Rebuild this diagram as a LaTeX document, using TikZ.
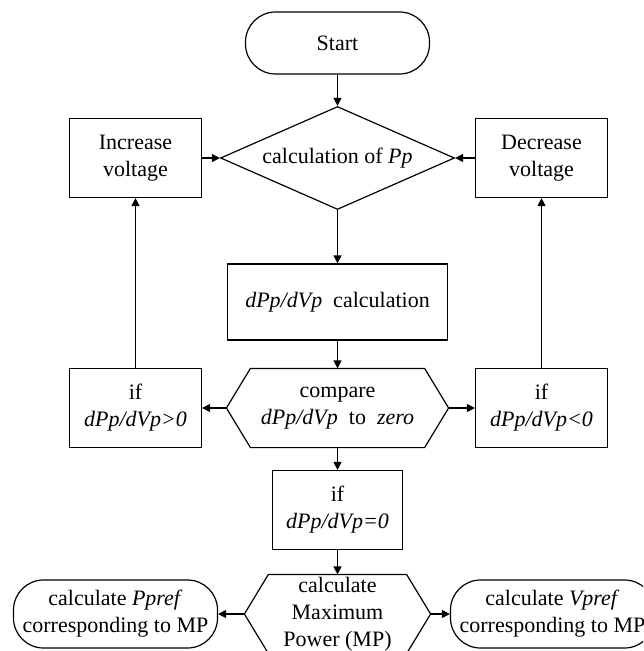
\documentclass[tikz,border=0pt]{standalone}
\usepackage{fontspec}
\setmainfont{Liberation Serif}
\usetikzlibrary{shapes.geometric}
\usetikzlibrary{arrows.meta}

\begin{document}
\begin{tikzpicture}[x=0.5pt,y=0.5pt,->,>={Triangle[length=4pt,width=4pt]},line width=0.6pt,
        every node/.style={font=\fontsize{11}{13.5}\selectfont, align=center, inner sep=1pt},
        terminal/.style={draw, rectangle, rounded corners=15pt, minimum width=102pt, minimum height=34pt},
        decision/.style={draw, diamond, aspect=2.3, minimum width=117pt, minimum height=51.5pt, inner sep=0pt},
        block/.style={draw, rectangle, minimum width=66pt, minimum height=39.5pt},
        hexa/.style={rectangle, minimum width=110.5pt, minimum height=39pt}]
        \useasboundingbox (0,0) rectangle (643,-651);
        \clip (0,0) rectangle (643,-651);
        \node[terminal, minimum width=92pt, minimum height=31pt] (start) at (337.5,-43) {Start};
        \node[decision] (calc) [below of=start, node distance=57.5pt] {calculation of \textit{Pp}};
        \node[block] (inc) [left of=calc, node distance=101pt] {Increase\\voltage};
        \node[block] (dec) [right of=calc, node distance=102pt] {Decrease\\voltage};
        \node[block, minimum width=110pt, minimum height=38pt] (deriv) [below of=calc, node distance=72pt] {\textit{dPp/dVp}~ calculation};
        \node[hexa] (cmp) [below of=deriv, node distance=53pt] {compare\\\textit{dPp/dVp}~ to~ \textit{zero}};
        \node[block] (ifpos) [left of=cmp, node distance=101pt] {if\\\textit{dPp/dVp>0}};
        \node[block] (ifneg) [right of=cmp, node distance=102pt] {if\\\textit{dPp/dVp<0}};
        \node[block, minimum width=65pt] (ifzero) [below of=cmp, node distance=51pt] {if\\\textit{dPp/dVp=0}};
        \node[hexa, minimum width=92.5pt, minimum height=38pt] (maxp) [below of=ifzero, node distance=52pt] {calculate\\Maximum\\Power (MP)};
        \node[terminal] (pref) [left of=maxp, node distance=111pt] {calculate \textit{Ppref}\\corresponding to MP};
        \node[terminal] (vref) [right of=maxp, node distance=107.5pt] {calculate \textit{Vpref}\\corresponding to MP};
        % hexagon outlines
        \foreach \n in {cmp,maxp}
            \draw[-] (\n.west) -- ([xshift=12pt]\n.north west) -- ([xshift=-12pt]\n.north east) -- (\n.east)
                -- ([xshift=-12pt]\n.south east) -- ([xshift=12pt]\n.south west) -- cycle;
        \draw (start) -- (calc);
        \draw (inc) -- (calc);
        \draw (dec) -- (calc);
        \draw (calc) -- (deriv);
        \draw (deriv) -- (cmp);
        \draw (cmp.west) -- (ifpos);
        \draw (cmp.east) -- (ifneg);
        \draw (ifpos) -- (inc);
        \draw (ifneg) -- (dec);
        \draw (cmp.south) -- (ifzero);
        \draw (ifzero) -- (maxp.north);
        \draw (maxp.west) -- (pref);
        \draw (maxp.east) -- (vref);
    \end{tikzpicture}
\end{document}
